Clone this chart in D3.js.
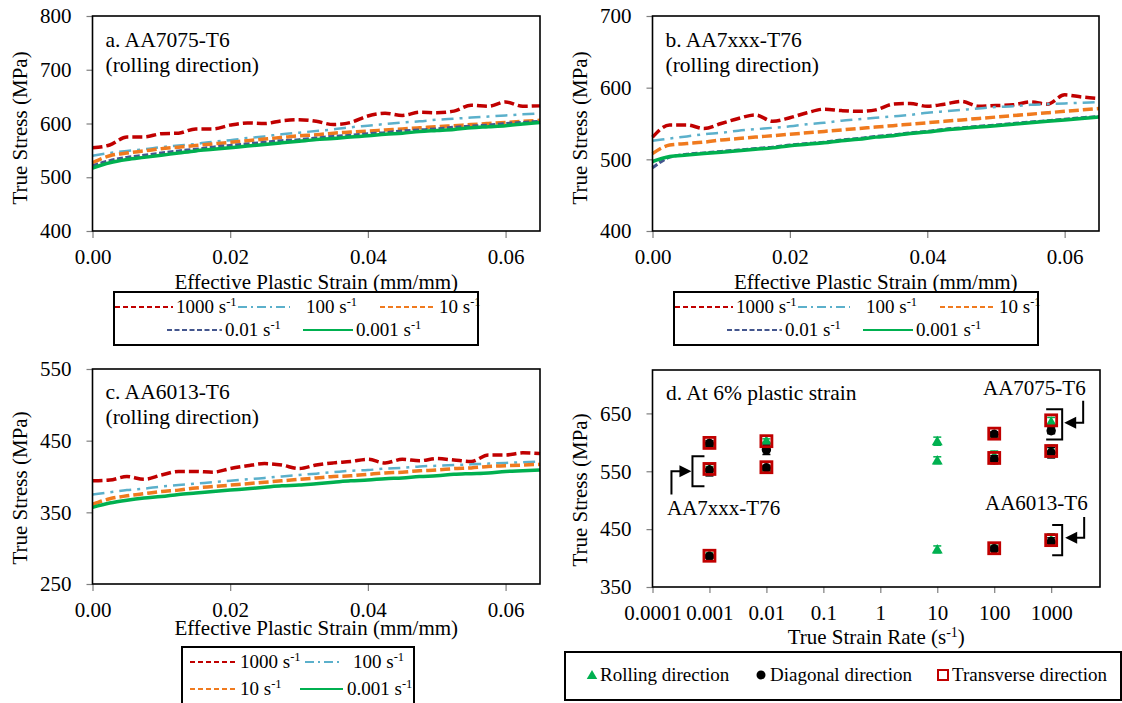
<!DOCTYPE html>
<html>
<head>
<meta charset="utf-8">
<script src="https://cdn.jsdelivr.net/npm/d3@7"></script>
<style>
  body { margin: 0; background: #fff; }
</style>
</head>
<body>
<svg id="chart" width="1122" height="703"></svg>
<script>
// ---- data ----
const strain = [0, 0.0025, 0.005, 0.0075, 0.01, 0.0125, 0.015, 0.0175, 0.02, 0.0225, 0.025, 0.0275, 0.03,
  0.0325, 0.035, 0.0375, 0.04, 0.0425, 0.045, 0.0475, 0.05, 0.0525, 0.055, 0.0575, 0.06, 0.0625, 0.065];
const strainTicks = [0, 0.02, 0.04, 0.06];

// a. AA7075-T6
const a1000 = [555, 560, 575, 575, 581, 582, 590, 590, 597, 601, 600, 605, 607, 604, 598, 602, 614, 619, 615, 621, 620, 623, 634, 632, 640, 632, 633];
const a100 = [540, 545, 549, 552, 556, 559, 562, 566, 569, 573, 576, 580, 583, 586, 589, 593, 596, 599, 602, 604, 607, 609, 611, 613, 615, 617, 619];
const a10 = [527, 540, 545, 549, 553, 556, 559, 562, 565, 568, 571, 574, 577, 579, 582, 584, 586, 588, 590, 592, 594, 596, 598, 600, 602, 604, 606];
const a0_01 = [521, 531, 537, 541, 545, 549, 552, 556, 559, 562, 565, 568, 570, 573, 576, 578, 581, 583, 586, 588, 590, 593, 595, 597, 600, 602, 604];
const a0_001 = [517, 527, 533, 537, 541, 545, 549, 552, 555, 558, 561, 564, 567, 570, 572, 575, 577, 580, 582, 585, 587, 589, 592, 594, 596, 599, 602];

// b. AA7xxx-T76
const b1000 = [531, 548, 548, 543, 550, 557, 562, 553, 558, 565, 570, 568, 567, 569, 577, 578, 574, 577, 581, 574, 575, 576, 580, 577, 590, 587, 585];
const b100 = [526, 529, 532, 535, 537, 540, 542, 544, 546, 549, 551, 554, 556, 558, 560, 562, 565, 567, 569, 571, 573, 574, 576, 577, 578, 579, 580];
const b10 = [508, 520, 522, 524, 527, 529, 531, 533, 535, 537, 539, 541, 543, 545, 547, 549, 551, 553, 555, 557, 559, 561, 563, 565, 567, 569, 571];
const b0_01 = [488, 503, 507, 509, 511, 513, 515, 517, 520, 522, 524, 527, 529, 532, 534, 537, 539, 542, 544, 546, 548, 550, 552, 554, 556, 558, 560];
const b0_001 = [497, 504, 506, 508, 510, 512, 514, 516, 519, 521, 523, 526, 528, 531, 533, 536, 538, 541, 543, 545, 547, 549, 551, 553, 555, 557, 559];

// c. AA6013-T6
const c1000 = [394, 395, 400, 396, 402, 407, 407, 406, 411, 415, 418, 416, 411, 416, 419, 421, 424, 419, 424, 422, 425, 423, 421, 430, 430, 433, 432];
const c100 = [375, 378, 381, 383, 386, 388, 390, 392, 394, 396, 398, 400, 402, 404, 406, 408, 409, 411, 412, 414, 415, 416, 417, 418, 419, 420, 421];
const c10 = [361, 369, 373, 376, 379, 381, 384, 386, 388, 390, 392, 394, 396, 398, 400, 401, 403, 405, 406, 408, 409, 411, 412, 414, 415, 416, 417];
const c0_001 = [357, 363, 367, 370, 372, 375, 377, 379, 381, 383, 385, 387, 388, 390, 392, 394, 395, 397, 398, 400, 401, 403, 404, 405, 407, 408, 409];

// d. stress at 6% plastic strain (AA7075, AA7xxx, AA6013 in turn)
const rollingRate = [0.001, 0.01, 10, 100, 1000, 0.001, 0.01, 10, 100, 1000, 0.001, 10, 100, 1000];
const rollingStress = [599, 603, 602, 614, 636, 555, 556, 569, 577, 588, 406, 415, 418, 432];
const rollingErr = [3, 3, 7, 3, 7, 3, 3, 6, 8, 7, 3, 6, 4, 10];
const diagonalRate = [0.001, 0.01, 100, 1000, 0.001, 0.01, 100, 1000, 0.001, 100, 1000];
const diagonalStress = [598, 587, 614, 620, 552, 556, 570, 582, 403, 416, 428];
const diagonalErr = [5, 8, 4, 5, 10, 4, 7, 9, 3, 3, 7];
const transverseRate = [0.001, 0.01, 100, 1000, 0.001, 0.01, 100, 1000, 0.001, 100, 1000];
const transverseStress = [599, 602, 615, 638, 554, 557, 573, 585, 404, 417, 431];
const rateTicks = [0.0001, 0.001, 0.01, 0.1, 1, 10, 100, 1000];
const rateTickLabels = ['0.0001', '0.001', '0.01', '0.1', '1', '10', '100', '1000'];

// ---- styles ----
const FONT = "'Liberation Serif', 'Times New Roman', 'DejaVu Serif', serif";
const lineStyle = {
  '1000': { color: '#C00000', dash: '10,4', width: 3.5, legendDash: '5,3' },
  '100': { color: '#5BB0CB', dash: '12,6,3,6', width: 2.5, legendDash: '9,4,2,4' },
  '10': { color: '#F07A1E', dash: '10,4', width: 3.5, legendDash: '5,3' },
  '0.01': { color: '#44568E', dash: '6,2.5', width: 3, legendDash: '5,2.5' },
  '0.001': { color: '#00B050', dash: null, width: 3.5, legendDash: null }
};

const svg = d3.select('#chart');

function rateText(sel, x, y, label, size) {
  const t = sel.append('text').attr('x', x).attr('y', y).style('font-size', size + 'px');
  t.append('tspan').text(label + ' s');
  t.append('tspan').attr('dy', -7).style('font-size', (size * 0.66) + 'px').text('-1');
  return t;
}

function styleAxis(g, size) {
  g.select('.domain').remove();
  g.selectAll('.tick line').attr('stroke', '#7f7f7f').attr('stroke-width', 1.2);
  g.selectAll('.tick text').style('font-size', size + 'px').attr('fill', '#000');
}

function curvePanel(p) {
  const x = d3.scaleLinear().domain([0, 0.065]).range([p.left, p.right]);
  const y = d3.scaleLinear().domain(p.yDomain).range([p.bottom, p.top]);
  const g = svg.append('g');

  const gy = g.append('g').attr('transform', `translate(${p.left},0)`)
    .call(d3.axisLeft(y).tickValues(p.yTicks).tickSize(6).tickPadding(15).tickFormat(d3.format('d')));
  styleAxis(gy, 21);
  const gx = g.append('g').attr('transform', `translate(0,${p.bottom})`)
    .call(d3.axisBottom(x).tickValues(strainTicks).tickSize(7).tickPadding(11).tickFormat(d3.format('.2f')));
  styleAxis(gx, 21);

  const line = d3.line().x((d, i) => x(strain[i])).y(d => y(d)).curve(d3.curveMonotoneX);
  p.series.forEach(s => {
    const st = lineStyle[s.rate];
    g.append('path').attr('d', line(s.values))
      .attr('fill', 'none').attr('stroke', st.color).attr('stroke-width', st.width)
      .attr('stroke-dasharray', st.dash);
  });

  g.append('rect').attr('x', p.left).attr('y', p.top)
    .attr('width', p.right - p.left).attr('height', p.bottom - p.top)
    .attr('fill', 'none').attr('stroke', '#000').attr('stroke-width', 1.6);

  p.title.forEach((t, i) => g.append('text').attr('x', p.left + 13).attr('y', p.titleY + i * 25)
    .style('font-size', '21.5px').text(t));

  g.append('text').attr('x', (p.left + p.right) / 2).attr('y', p.xTitleY)
    .attr('text-anchor', 'middle').style('font-size', '21px').text('Effective Plastic Strain (mm/mm)');
  g.append('text').attr('transform', `translate(${p.yTitleX},${p.yTitleY}) rotate(-90)`)
    .attr('text-anchor', 'middle').style('font-size', '21px').text('True Stress (MPa)');

  // legend
  const L = p.legend;
  g.append('rect').attr('x', L.x0).attr('y', L.y0).attr('width', L.x1 - L.x0).attr('height', L.h)
    .attr('fill', '#fff').attr('stroke', '#000').attr('stroke-width', 2);
  L.items.forEach(it => {
    const st = lineStyle[it.rate];
    g.append('line').attr('x1', it.l0).attr('x2', it.l1).attr('y1', it.y).attr('y2', it.y)
      .attr('stroke', st.color).attr('stroke-width', 2).attr('stroke-dasharray', st.legendDash);
    rateText(g, it.tx, it.y + 6, it.rate, 19);
  });
}

curvePanel({
  left: 92.5, right: 540, top: 16, bottom: 231, yDomain: [400, 800], yTicks: [400, 500, 600, 700, 800],
  series: [{ rate: '1000', values: a1000 }, { rate: '100', values: a100 }, { rate: '10', values: a10 },
    { rate: '0.01', values: a0_01 }, { rate: '0.001', values: a0_001 }],
  title: ['a. AA7075-T6', '(rolling direction)'], titleY: 47,
  xTitleY: 289, yTitleX: 27, yTitleY: 128,
  legend: { x0: 114, x1: 478, y0: 292, h: 53, items: [
    { rate: '1000', y: 307, l0: 115, l1: 173, tx: 176 },
    { rate: '100', y: 307, l0: 238, l1: 290, tx: 306 },
    { rate: '10', y: 307, l0: 380, l1: 435, tx: 439 },
    { rate: '0.01', y: 330, l0: 167, l1: 222, tx: 225 },
    { rate: '0.001', y: 330, l0: 303, l1: 353, tx: 356 }] }
});

curvePanel({
  left: 652.5, right: 1099, top: 16, bottom: 231, yDomain: [400, 700], yTicks: [400, 500, 600, 700],
  series: [{ rate: '1000', values: b1000 }, { rate: '100', values: b100 }, { rate: '10', values: b10 },
    { rate: '0.01', values: b0_01 }, { rate: '0.001', values: b0_001 }],
  title: ['b. AA7xxx-T76', '(rolling direction)'], titleY: 47,
  xTitleY: 289, yTitleX: 587, yTitleY: 128,
  legend: { x0: 674, x1: 1038, y0: 292, h: 53, items: [
    { rate: '1000', y: 307, l0: 675, l1: 733, tx: 736 },
    { rate: '100', y: 307, l0: 798, l1: 850, tx: 866 },
    { rate: '10', y: 307, l0: 940, l1: 995, tx: 999 },
    { rate: '0.01', y: 330, l0: 727, l1: 782, tx: 785 },
    { rate: '0.001', y: 330, l0: 863, l1: 913, tx: 916 }] }
});

curvePanel({
  left: 92.5, right: 540, top: 369, bottom: 584, yDomain: [250, 550], yTicks: [250, 350, 450, 550],
  series: [{ rate: '1000', values: c1000 }, { rate: '100', values: c100 }, { rate: '10', values: c10 },
    { rate: '0.001', values: c0_001 }],
  title: ['c. AA6013-T6', '(rolling direction)'], titleY: 399,
  xTitleY: 635, yTitleX: 27, yTitleY: 488,
  legend: { x0: 182, x1: 414, y0: 647, h: 70, items: [
    { rate: '1000', y: 662, l0: 190, l1: 235, tx: 240 },
    { rate: '100', y: 662, l0: 305, l1: 342, tx: 353 },
    { rate: '10', y: 689, l0: 190, l1: 235, tx: 240 },
    { rate: '0.001', y: 689, l0: 300, l1: 343, tx: 347 }] }
});

// ---- panel d ----
(function () {
  const p = { left: 652.5, right: 1100, top: 370, bottom: 587 };
  const x = d3.scaleLog().domain([0.0001, 7200]).range([p.left, p.right]);
  const y = d3.scaleLinear().domain([350, 725]).range([p.bottom, p.top]);
  const g = svg.append('g');

  const gy = g.append('g').attr('transform', `translate(${p.left},0)`)
    .call(d3.axisLeft(y).tickValues([350, 450, 550, 650]).tickSize(6).tickPadding(15).tickFormat(d3.format('d')));
  styleAxis(gy, 21);
  const gx = g.append('g').attr('transform', `translate(0,${p.bottom})`)
    .call(d3.axisBottom(x).tickValues(rateTicks).tickSize(6).tickPadding(12)
      .tickFormat((d, i) => rateTickLabels[i]));
  styleAxis(gx, 21);

  const errBar = (rates, vals, errs, color) => {
    rates.forEach((r, i) => {
      const cx = x(r);
      g.append('line').attr('x1', cx).attr('x2', cx).attr('y1', y(vals[i] - errs[i])).attr('y2', y(vals[i] + errs[i]))
        .attr('stroke', color).attr('stroke-width', 1.5);
      [vals[i] - errs[i], vals[i] + errs[i]].forEach(v => g.append('line')
        .attr('x1', cx - 4).attr('x2', cx + 4).attr('y1', y(v)).attr('y2', y(v))
        .attr('stroke', color).attr('stroke-width', 1.5));
    });
  };

  errBar(rollingRate, rollingStress, rollingErr, '#00B050');
  rollingRate.forEach((r, i) => g.append('path')
    .attr('d', d3.symbol().type(d3.symbolTriangle).size(52)())
    .attr('transform', `translate(${x(r)},${y(rollingStress[i]) + 1})`).attr('fill', '#00B050'));

  errBar(diagonalRate, diagonalStress, diagonalErr, '#000');
  diagonalRate.forEach((r, i) => g.append('circle')
    .attr('cx', x(r)).attr('cy', y(diagonalStress[i])).attr('r', 4.7).attr('fill', '#000'));

  transverseRate.forEach((r, i) => g.append('rect')
    .attr('x', x(r) - 5.5).attr('y', y(transverseStress[i]) - 5.5).attr('width', 11).attr('height', 11)
    .attr('fill', 'none').attr('stroke', '#C00000').attr('stroke-width', 2.8));

  g.append('rect').attr('x', p.left).attr('y', p.top)
    .attr('width', p.right - p.left).attr('height', p.bottom - p.top)
    .attr('fill', 'none').attr('stroke', '#000').attr('stroke-width', 1.6);

  g.append('text').attr('x', 666).attr('y', 400).style('font-size', '21.5px').text('d. At 6% plastic strain');

  // group labels with brackets and arrows
  const arrowHead = (tipX, tipY, dir) => g.append('path')
    .attr('d', `M${tipX},${tipY} L${tipX - dir * 12},${tipY - 6} L${tipX - dir * 12},${tipY + 6} Z`)
    .attr('fill', '#000');
  const bracket = (bx, hi, lo, arm) => g.append('path')
    .attr('d', `M${bx + arm},${y(hi)} H${bx} V${y(lo)} H${bx + arm}`)
    .attr('fill', 'none').attr('stroke', '#000').attr('stroke-width', 2);

  // AA7xxx-T76
  const bx1 = x(0.001) - 17;
  bracket(bx1, 576, 524, 12);
  g.append('path').attr('d', `M${bx1 - 21},${y(510)} V${y(550)} H${bx1 - 10}`)
    .attr('fill', 'none').attr('stroke', '#000').attr('stroke-width', 2);
  arrowHead(bx1 - 1, y(550), 1);
  g.append('text').attr('x', 667).attr('y', 515).style('font-size', '21px').text('AA7xxx-T76');

  // AA7075-T6
  const bx2 = x(1000) + 11;
  bracket(bx2, 657, 605, -16);
  g.append('path').attr('d', `M${bx2 + 21},${y(672)} V${y(634)} H${bx2 + 10}`)
    .attr('fill', 'none').attr('stroke', '#000').attr('stroke-width', 2);
  arrowHead(bx2 + 2, y(634), -1);
  g.append('text').attr('x', 983).attr('y', 395).style('font-size', '21px').text('AA7075-T6');

  // AA6013-T6
  bracket(bx2, 457, 405, -10);
  g.append('path').attr('d', `M${bx2 + 22},${y(471)} V${y(435)} H${bx2 + 10}`)
    .attr('fill', 'none').attr('stroke', '#000').attr('stroke-width', 2);
  arrowHead(bx2 + 3, y(435), -1);
  g.append('text').attr('x', 985).attr('y', 510).style('font-size', '21px').text('AA6013-T6');

  // axis titles
  const xt = g.append('text').attr('x', (p.left + p.right) / 2).attr('y', 644)
    .attr('text-anchor', 'middle').style('font-size', '21px');
  xt.append('tspan').text('True Strain Rate (s');
  xt.append('tspan').attr('dy', -7).style('font-size', '14px').text('-1');
  xt.append('tspan').attr('dy', 7).text(')');
  g.append('text').attr('transform', `translate(587,490) rotate(-90)`)
    .attr('text-anchor', 'middle').style('font-size', '21px').text('True Stress (MPa)');

  // legend
  const ly = 675;
  g.append('rect').attr('x', 565).attr('y', 652).attr('width', 556).attr('height', 48)
    .attr('fill', '#fff').attr('stroke', '#000').attr('stroke-width', 2);
  g.append('path').attr('d', d3.symbol().type(d3.symbolTriangle).size(48)())
    .attr('transform', `translate(592,${ly + 1})`).attr('fill', '#00B050');
  g.append('text').attr('x', 600).attr('y', ly + 6).style('font-size', '19px').text('Rolling direction');
  g.append('circle').attr('cx', 761).attr('cy', ly).attr('r', 4.5).attr('fill', '#000');
  g.append('text').attr('x', 770).attr('y', ly + 6).style('font-size', '19px').text('Diagonal direction');
  g.append('rect').attr('x', 938).attr('y', ly - 5).attr('width', 10).attr('height', 10)
    .attr('fill', '#fff').attr('stroke', '#C00000').attr('stroke-width', 2);
  g.append('text').attr('x', 952).attr('y', ly + 6).style('font-size', '19px').text('Transverse direction');
})();

// serif everywhere, as in the original figure
svg.selectAll('text').style('font-family', FONT).attr('fill', '#000');
</script>
</body>
</html>
